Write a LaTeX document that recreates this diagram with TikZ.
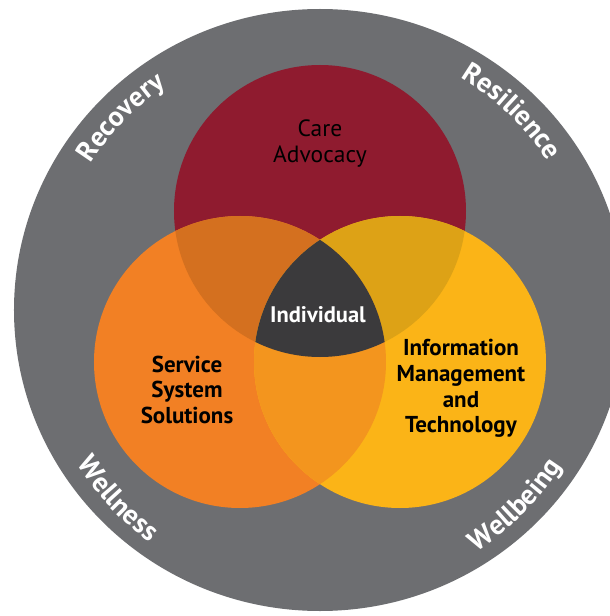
\documentclass[tikz,border=0pt]{standalone}
\usepackage{fontspec}
\setmainfont{PT Sans}
\usetikzlibrary{decorations.text}

\definecolor{ringgray}{HTML}{6D6E71}
\definecolor{carered}{HTML}{8F1B2F}
\definecolor{svcorange}{HTML}{F28024}
\definecolor{infoyellow}{HTML}{FBB417}
\definecolor{redorange}{HTML}{D4701F}
\definecolor{redyellow}{HTML}{DDA216}
\definecolor{orangeyellow}{HTML}{F3951E}
\definecolor{coredark}{HTML}{3B3A3C}

\newcommand{\ringfont}{\bfseries\fontsize{28}{28}\selectfont}

\begin{document}
\begin{tikzpicture}[x=1pt,y=1pt,
  pillar/.style={font=\bfseries\fontsize{23}{26}\selectfont, text=black, inner sep=0pt, anchor=base},
  pillarlight/.style={font=\fontsize{23.5}{26}\selectfont, text=black, inner sep=0pt, anchor=base},
  core/.style={font=\bfseries\fontsize{22.5}{26}\selectfont, text=white, inner sep=0pt, anchor=base},
  ringlabel/.style={decorate, decoration={text along path, text align=center, text color=white, text={|\ringfont|#1}}}
]
\useasboundingbox (-320,-306) rectangle (290,310);
\fill[white] (-320,-306) rectangle (290,310);

% outer ring
\fill[ringgray] (0,0) ellipse[x radius=306, y radius=301];

% circle centres
\coordinate (cR) at (0,99);
\coordinate (cO) at (-80,-52);
\coordinate (cY) at (80,-52);

% three circles
\fill[carered] (cR) circle[radius=146];
\fill[svcorange] (cO) circle[radius=146];
\fill[infoyellow] (cY) circle[radius=146];

% pairwise overlaps
\begin{scope}
  \clip (cR) circle[radius=146];
  \fill[redorange] (cO) circle[radius=146];
  \fill[redyellow] (cY) circle[radius=146];
\end{scope}
\begin{scope}
  \clip (cO) circle[radius=146];
  \fill[orangeyellow] (cY) circle[radius=146];
  \clip (cR) circle[radius=146];
  \fill[coredark] (cY) circle[radius=146];
\end{scope}

% circle labels
\node[pillarlight] (care) at (0,173) {Care};
\node[pillarlight] (advocacy) at (0,147) {Advocacy};

\node[core] (individual) at (-2,-12) {Individual};

\node[pillar] (service) at (-133,-62) {Service};
\node[pillar] (system) at (-133,-87) {System};
\node[pillar] (solutions) at (-133,-113) {Solutions};

\node[pillar] (information) at (141,-45) {Information};
\node[pillar] (management) at (141,-71) {Management};
\node[pillar] (and) at (141,-97) {and};
\node[pillar] (technology) at (141,-122) {Technology};

% ring labels
\path[ringlabel=Recovery] (166:272) arc[start angle=166, end angle=106, radius=272];
\path[ringlabel=Resilience] (76:272) arc[start angle=76, end angle=16, radius=272];
\path[ringlabel=Wellness] (193:288) arc[start angle=193, end angle=253, radius=288];
\path[ringlabel=Wellbeing] (285:288) arc[start angle=285, end angle=345, radius=288];
\end{tikzpicture}
\end{document}
